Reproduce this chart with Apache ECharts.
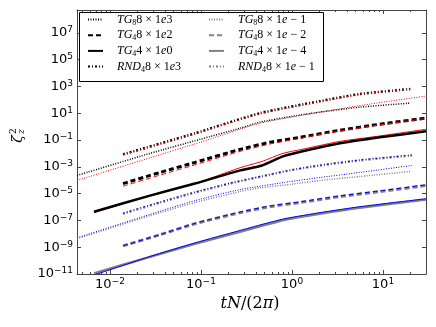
<!DOCTYPE html>
<html>
<head>
<meta charset="utf-8">
<script src="https://cdn.jsdelivr.net/npm/echarts@6/dist/echarts.min.js"></script>
<style>
  html, body { margin: 0; padding: 0; background: #fff; }
  #chart { width: 436px; height: 327px; }
</style>
</head>
<body>
<div id="chart"></div>
<script>
// axis limits (tN/2pi and zeta_z^2)
const X_LIM = [0.00434, 29.7]
const Y_LIM = [1e-11, 5e8]
const X_MAJOR = [-2, -1, 0, 1]
const Y_MAJOR = [-11, -9, -7, -5, -3, -1, 1, 3, 5, 7]

// TG_8 8x1e3 (black dotted) + red reference
const tg8Hi_t = [0.00434, 0.0275, 0.098, 0.269, 0.445, 1.03, 2.03, 5.58, 19.8]
const tg8Hi_z = [2.24e-4, 1.0e-2, 0.112, 0.759, 2.14, 6.03, 12.0, 28.2, 56.2]
const tg8HiRef_t = [0.00434, 0.0275, 0.098, 0.445, 2.03, 7.19, 29.7]
const tg8HiRef_z = [9.55e-5, 4.68e-3, 0.0676, 1.78, 12.0, 47.9, 190]

// TG_4 8x1e2 (black dashed)
const tg4Hi_t = [0.0139, 0.0355, 0.0859, 0.269, 0.573, 1.22, 3.37, 9.27, 29.7]
const tg4Hi_z = [5.6e-5, 3.8e-4, 2.14e-3, 0.02, 0.0676, 0.158, 0.537, 1.51, 4.27]
const tg4HiRef_z = [3.55e-5, 2.4e-4, 1.41e-3, 0.0141, 0.0501, 0.132, 0.468, 1.35, 3.98]

// TG_4 4x1e0 (black solid)
const tg44Hi_t = [0.00667, 0.0275, 0.0859, 0.269, 0.468, 0.796, 1.46, 3.37, 9.27, 29.7]
const tg44Hi_z = [4.47e-7, 7.08e-6, 5.62e-5, 5.37e-4, 1.26e-3, 6.03e-3, 0.017, 0.0562, 0.158, 0.447]
const tg44HiRef_z = [3.8e-7, 7.08e-6, 5.62e-5, 8.5e-4, 2.5e-3, 0.01, 0.024, 0.079, 0.2, 0.63]

// RND_4 8x1e3 (black dash-dot)
const rndHi_t = [0.0139, 0.0859, 0.445, 2.03, 5.58, 19.8]
const rndHi_z = [8.5e-3, 0.316, 10, 79.4, 269, 631]
const rndHiRef_t = [0.0139, 0.0859, 0.445, 2.03, 5.58, 20.8]
const rndHiRef_z = [7.6e-3, 0.282, 8.9, 70.8, 251, 661]

// TG_8 8x1e-1 (gray dotted) + blue reference
const tg8Lo_t = [0.00434, 0.0275, 0.0859, 0.269, 0.468, 0.951, 2.03, 5.58, 19.8]
const tg8Lo_z = [4.27e-9, 2.24e-7, 2.14e-6, 1.41e-5, 2.82e-5, 4.79e-5, 9.55e-5, 1.9e-4, 4.47e-4]
const tg8LoRef_t = [0.00434, 0.0275, 0.0859, 0.269, 0.951, 2.03, 5.58, 20.8]
const tg8LoRef_z = [5.0e-9, 2.8e-7, 3.0e-6, 2.0e-5, 7.9e-5, 1.58e-4, 3.8e-4, 1.26e-3]

// TG_4 8x1e-2 (gray dashed)
const tg4Lo_t = [0.0139, 0.0355, 0.0859, 0.269, 0.573, 1.22, 3.37, 9.27, 29.7]
const tg4Lo_z = [1.26e-9, 8.5e-9, 5.62e-8, 3.8e-7, 1.07e-6, 2.14e-6, 6.03e-6, 1.41e-5, 3.98e-5]
const tg4LoRef_z = [1.26e-9, 8.7e-9, 6.0e-8, 4.2e-7, 1.2e-6, 2.4e-6, 6.8e-6, 1.6e-5, 4.5e-5]

// TG_4 4x1e-4 (gray solid)
const tg44Lo_t = [0.00667, 0.0275, 0.0859, 0.269, 0.468, 0.838, 2.03, 5.58, 29.7]
const tg44Lo_z = [1.12e-11, 1.9e-10, 1.78e-9, 1.41e-8, 3.98e-8, 1.12e-7, 3.16e-7, 8.9e-7, 3.55e-6]
const tg44LoRef_z = [8.3e-12, 2.0e-10, 2.1e-9, 1.78e-8, 5.0e-8, 1.35e-7, 3.8e-7, 1.05e-6, 4.17e-6]

// RND_4 8x1e-1 (gray dash-dot)
const rndLo_t = [0.0139, 0.0355, 0.0859, 0.208, 0.468, 0.951, 2.03, 5.58, 20.8]
const rndLo_z = [3.16e-7, 2.14e-6, 1.2e-5, 5.62e-5, 1.9e-4, 5.37e-4, 1.26e-3, 3.02e-3, 7.08e-3]
const rndLoRef_z = [3.4e-7, 2.3e-6, 1.3e-5, 6.0e-5, 2.0e-4, 5.6e-4, 1.3e-3, 3.2e-3, 7.4e-3]

const DOT = [1, 1.5]
const DASH = [5, 3]
const DASHDOT = [2, 2, 1, 2]
const AXIS = '#444'
const SERIF = 'Liberation Serif'

const lg = Math.log10
const xMin = lg(X_LIM[0]), xMax = lg(X_LIM[1])
const yMin = lg(Y_LIM[0]), yMax = lg(Y_LIM[1])

// minor ticks at 2..9 x 10^n
const xMinor = []
for (let d = -3; d <= 1; d++) {
  for (let k = 2; k <= 9; k++) {
    const v = d + lg(k)
    if (v > xMin && v < xMax) xMinor.push(v)
  }
}

function line(name, t, z, color, width, dash, zz) {
  return {
    name: name,
    type: 'line',
    data: t.map((v, i) => [lg(v), lg(z[i])]),
    symbol: 'none',
    showSymbol: false,
    smooth: 0.2,
    silent: true,
    z: zz,
    color: color,
    lineStyle: { color: color, width: width, type: dash },
  }
}

const legendRich = {
  g: { width: 9, fontSize: 12, lineHeight: 14 },
  i: { fontFamily: SERIF, fontStyle: 'italic', fontSize: 12, lineHeight: 14, color: '#000' },
  n: { fontFamily: SERIF, fontSize: 12, lineHeight: 14, color: '#000' },
  s: { fontFamily: SERIF, fontSize: 8, lineHeight: 9, verticalAlign: 'bottom', color: '#000' },
}
const legendText = {
  'TG8 8x1e3': '{g| }{i|TG}{s|8}{n|8 × 1}{i|e}{n|3}',
  'TG4 8x1e2': '{g| }{i|TG}{s|4}{n|8 × 1}{i|e}{n|2}',
  'TG4 4x1e0': '{g| }{i|TG}{s|4}{n|4 × 1}{i|e}{n|0}',
  'RND4 8x1e3': '{g| }{i|RND}{s|4}{n|8 × 1}{i|e}{n|3}',
  'TG8 8x1e-1': '{g| }{i|TG}{s|8}{n|8 × 1}{i|e}{n| − 1}',
  'TG4 8x1e-2': '{g| }{i|TG}{s|4}{n|8 × 1}{i|e}{n| − 2}',
  'TG4 4x1e-4': '{g| }{i|TG}{s|4}{n|4 × 1}{i|e}{n| − 4}',
  'RND4 8x1e-1': '{g| }{i|RND}{s|4}{n|8 × 1}{i|e}{n| − 1}',
}

function legendBox(left, names) {
  return {
    left: left,
    top: 13.5,
    orient: 'vertical',
    itemWidth: 15,
    itemHeight: 14,
    itemGap: 2.7,
    padding: 0,
    selectedMode: false,
    data: names,
    formatter: (n) => legendText[n],
    itemStyle: { color: 'rgba(0,0,0,0)', borderWidth: 0, opacity: 0 },
    textStyle: { rich: legendRich },
  }
}

const tickLabel = {
  formatter: (v) => '{b|10}{s|' + String(Math.round(v)).replace('-', '−') + '}',
  rich: {
    b: { fontFamily: 'DejaVu Sans', fontSize: 13, lineHeight: 15, color: '#000' },
    s: { fontFamily: 'DejaVu Sans', fontSize: 9, lineHeight: 10, verticalAlign: 'top', color: '#000' },
  },
}

function xAx(pos, ticks, len, labels, showLine) {
  return {
    type: 'value', position: pos, min: xMin, max: xMax,
    splitLine: { show: false },
    axisLine: { show: showLine, onZero: false, lineStyle: { color: AXIS, width: 1 } },
    axisTick: { show: true, inside: true, length: len, customValues: ticks, lineStyle: { color: AXIS } },
    axisLabel: labels
      ? Object.assign({ show: true, margin: 3, customValues: X_MAJOR }, tickLabel)
      : { show: false },
  }
}

function yAx(pos, labels) {
  return {
    type: 'value', position: pos, min: yMin, max: yMax,
    splitLine: { show: false },
    axisLine: { show: true, onZero: false, lineStyle: { color: AXIS, width: 1 } },
    axisTick: { show: true, inside: true, length: 4, customValues: Y_MAJOR, lineStyle: { color: AXIS } },
    axisLabel: labels
      ? Object.assign({ show: true, margin: 4, customValues: Y_MAJOR }, tickLabel)
      : { show: false },
  }
}

const chart = echarts.init(document.getElementById('chart'))
chart.setOption({
  animation: false,
  backgroundColor: '#fff',
  grid: { left: 77, right: 10, top: 10, bottom: 53 },
  xAxis: [
    xAx('bottom', X_MAJOR, 4, true, true),
    xAx('bottom', xMinor, 2, false, false),
    xAx('top', X_MAJOR, 4, false, true),
    xAx('top', xMinor, 2, false, false),
  ],
  yAxis: [yAx('left', true), yAx('right', false)],
  legend: [
    legendBox(87, ['TG8 8x1e3', 'TG4 8x1e2', 'TG4 4x1e0', 'RND4 8x1e3']),
    legendBox(208, ['TG8 8x1e-1', 'TG4 8x1e-2', 'TG4 4x1e-4', 'RND4 8x1e-1']),
  ],
  graphic: [
    {
      type: 'rect', z: 3, silent: true,
      shape: { x: 79.5, y: 12.5, width: 244, height: 69 },
      style: { fill: '#fff', stroke: '#000', lineWidth: 1 },
    },
    {
      type: 'group', x: 18.5, y: 139, rotation: Math.PI / 2, silent: true,
      children: [
        { type: 'text', x: 0, y: 0, style: { text: 'ζ', font: 'italic 14px DejaVu Serif', align: 'center', verticalAlign: 'middle', fill: '#000' } },
        { type: 'text', x: 5, y: -4.5, style: { text: '2', font: '9px DejaVu Serif', align: 'left', verticalAlign: 'middle', fill: '#000' } },
        { type: 'text', x: 5, y: 3, style: { text: 'z', font: 'italic 9px DejaVu Serif', align: 'left', verticalAlign: 'middle', fill: '#000' } },
      ],
    },
    {
      type: 'text', silent: true,
      style: {
        text: '{i|tN}{n|/(2}{i|π}{n|)}',
        x: 250, y: 304, align: 'center', verticalAlign: 'middle',
        rich: {
          i: { fontFamily: 'DejaVu Serif', fontStyle: 'italic', fontSize: 16, fill: '#000' },
          n: { fontFamily: 'DejaVu Serif', fontSize: 16, fill: '#000' },
        },
      },
    },
  ],
  series: [
    line('TG8 8x1e3', tg8Hi_t, tg8Hi_z, '#000', 1.5, DOT, 2),
    line('TG4 8x1e2', tg4Hi_t, tg4Hi_z, '#000', 3, DASH, 2),
    line('TG4 4x1e0', tg44Hi_t, tg44Hi_z, '#000', 2.5, 'solid', 2),
    line('RND4 8x1e3', rndHi_t, rndHi_z, '#000', 2.5, DASHDOT, 2),
    line('TG8 8x1e-1', tg8Lo_t, tg8Lo_z, '#808080', 1.5, DOT, 2),
    line('TG4 8x1e-2', tg4Lo_t, tg4Lo_z, '#808080', 3, DASH, 2),
    line('TG4 4x1e-4', tg44Lo_t, tg44Lo_z, '#808080', 2.5, 'solid', 2),
    line('RND4 8x1e-1', rndLo_t, rndLo_z, '#808080', 2.5, DASHDOT, 2),
    line('ref TG8 hi', tg8HiRef_t, tg8HiRef_z, '#ff0000', 1, DOT, 2.5),
    line('ref TG4 hi', tg4Hi_t, tg4HiRef_z, '#ff0000', 1, DASH, 2.5),
    line('ref TG44 hi', tg44Hi_t, tg44HiRef_z, '#ff0000', 1, 'solid', 1.5),
    line('ref RND hi', rndHiRef_t, rndHiRef_z, '#ff0000', 1, DASHDOT, 2.5),
    line('ref TG8 lo', tg8LoRef_t, tg8LoRef_z, '#0000ff', 1, DOT, 2.5),
    line('ref TG4 lo', tg4Lo_t, tg4LoRef_z, '#0000ff', 1, DASH, 2.5),
    line('ref TG44 lo', tg44Lo_t, tg44LoRef_z, '#0000ff', 1, 'solid', 2.5),
    line('ref RND lo', rndLo_t, rndLoRef_z, '#0000ff', 1, DASHDOT, 2.5),
  ],
})
</script>
</body>
</html>
